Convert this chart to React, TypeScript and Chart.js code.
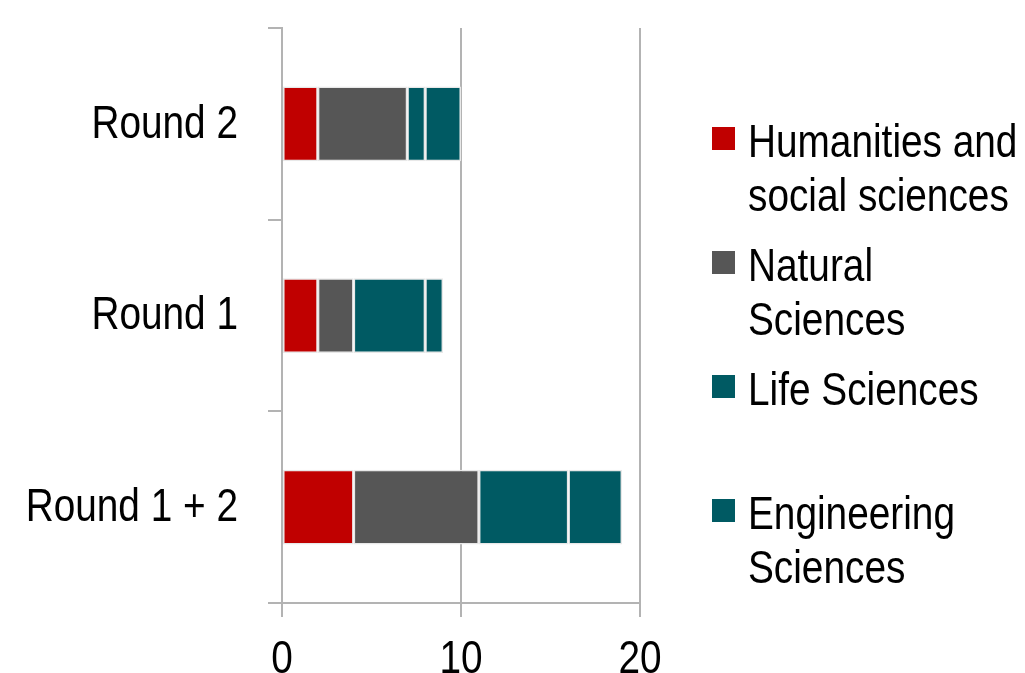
import React, { useEffect, useRef } from "react";
import { Chart, registerables } from "chart.js";

Chart.register(...registerables);

const categories = ["Round 2", "Round 1", "Round 1 + 2"];
const humanities = [2, 2, 4];
const natural = [5, 2, 7];
const life = [1, 4, 5];
const engineering = [2, 1, 3];
const seriesLabels = [
  ["Humanities and", "social sciences"],
  ["Natural", "Sciences"],
  ["Life Sciences"],
  ["Engineering", "Sciences"],
];
const seriesColors = ["#C00000", "#565656", "#005A63", "#005A63"];
const xMin = 0;
const xMax = 20;
const xStep = 10;

const FONT = "'Liberation Sans', Arial, sans-serif";
const FONT_SIZE = 47;
const NARROW = 0.825;
const GRID = "#B3B3B3";

// Draws tick labels horizontally condensed (Arial Narrow look) at the scales' own tick positions.
const narrowLabels = {
  id: "narrowLabels",
  afterDraw(chart: any) {
    const ctx = chart.ctx as CanvasRenderingContext2D;
    const xs = chart.scales.x;
    const ys = chart.scales.y;
    ctx.save();
    ctx.fillStyle = "#000";
    ctx.font = `${FONT_SIZE}px ${FONT}`;
    ctx.textBaseline = "middle";
    ctx.textAlign = "right";
    ys.ticks.forEach((t: any, i: number) => {
      const y = ys.getPixelForTick(i) + 1;
      const x = chart.chartArea.left - 14 - 30;
      ctx.save();
      ctx.translate(x, y);
      ctx.scale(NARROW, 1);
      ctx.fillText(String(ys.getLabelForValue(t.value)), 0, 0);
      ctx.restore();
    });
    ctx.textAlign = "center";
    xs.ticks.forEach((t: any, i: number) => {
      const x = xs.getPixelForTick(i);
      const y = chart.chartArea.bottom + 14 + 43;
      ctx.save();
      ctx.translate(x, y);
      ctx.scale(NARROW, 1);
      ctx.fillText(String(t.label), 0, 0);
      ctx.restore();
    });
    ctx.restore();
  },
};

export default function App() {
  const ref = useRef<HTMLCanvasElement | null>(null);

  useEffect(() => {
    if (!ref.current) return;
    const values = [humanities, natural, life, engineering];
    const chart = new Chart(ref.current, {
      type: "bar",
      data: {
        labels: categories,
        datasets: values.map((v, i) => ({
          label: seriesLabels[i].join(" "),
          data: v,
          backgroundColor: seriesColors[i],
          borderColor: "#E8E8E8",
          borderWidth: 1.5,
          borderSkipped: false,
          barPercentage: 0.39,
          categoryPercentage: 1,
        })),
      },
      plugins: [narrowLabels],
      options: {
        indexAxis: "y",
        animation: false,
        responsive: false,
        devicePixelRatio: 1,
        layout: { padding: { top: 28, right: 385, left: 0, bottom: 0 } },
        plugins: { legend: { display: false }, tooltip: { enabled: false } },
        scales: {
          x: {
            stacked: true,
            min: xMin,
            max: xMax,
            ticks: {
              stepSize: xStep,
              color: "rgba(0,0,0,0)",
              font: { family: FONT, size: FONT_SIZE },
              padding: 8,
            },
            grid: {
              color: GRID,
              lineWidth: 2,
              tickLength: 14,
              drawTicks: true,
            },
            border: { display: true, color: GRID, width: 2 },
            afterFit: (s: any) => {
              s.height = 70;
              s.paddingLeft = 0;
              s.paddingRight = 0;
            },
          },
          y: {
            stacked: true,
            ticks: {
              color: "rgba(0,0,0,0)",
              font: { family: FONT, size: FONT_SIZE },
              padding: 30,
            },
            grid: {
              drawOnChartArea: false,
              drawTicks: true,
              tickLength: 14,
              color: GRID,
              lineWidth: 2,
              offset: true,
            },
            border: { display: true, color: GRID, width: 2 },
            afterFit: (s: any) => {
              s.width = 282;
              s.paddingTop = 0;
              s.paddingBottom = 0;
            },
          },
        },
      },
    });
    return () => chart.destroy();
  }, []);

  return (
    <div style={{ position: "absolute", left: 0, top: 0, width: 1025, height: 673, background: "#fff", overflow: "hidden" }}>
      <canvas ref={ref} width={1025} height={673} style={{ display: "block" }} />
      <div
        style={{
          position: "absolute",
          left: 712,
          top: 114,
          fontFamily: FONT,
          fontSize: FONT_SIZE,
          lineHeight: "54px",
          color: "#000",
        }}
      >
        {seriesLabels.map((lines, i) => (
          <div key={i} style={{ display: "flex", height: 124 }}>
            <div
              style={{
                width: 23,
                height: 23,
                marginTop: 13,
                marginRight: 13,
                background: seriesColors[i],
                flex: "0 0 auto",
              }}
            />
            <div style={{ whiteSpace: "nowrap", transform: `scaleX(${NARROW})`, transformOrigin: "left top" }}>
              {lines.map((l, j) => (
                <div key={j}>{l}</div>
              ))}
            </div>
          </div>
        ))}
      </div>
    </div>
  );
}
